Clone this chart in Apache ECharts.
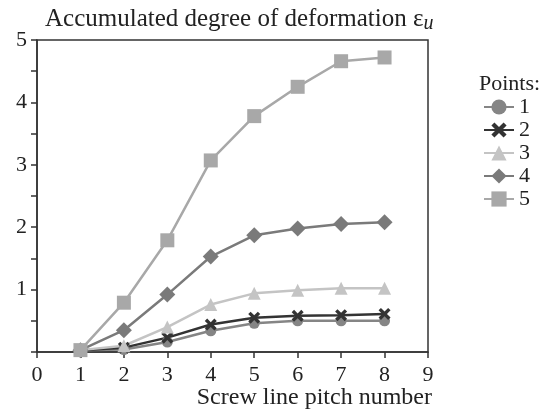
<!DOCTYPE html>
<html>
<head>
<meta charset="utf-8">
<script src="https://cdn.jsdelivr.net/npm/echarts@6/dist/echarts.min.js"></script>
<style>
  html, body { margin: 0; padding: 0; background: #fff; }
  #main { width: 547px; height: 415px; }
</style>
</head>
<body>
<div id="main"></div>
<script>
var pitch = [1, 2, 3, 4, 5, 6, 7, 8];
var point1 = [0.03, 0.04, 0.16, 0.34, 0.46, 0.5, 0.5, 0.5];
var point2 = [0.03, 0.07, 0.23, 0.44, 0.55, 0.58, 0.59, 0.61];
var point3 = [0.03, 0.1, 0.4, 0.76, 0.94, 0.99, 1.02, 1.02];
var point4 = [0.03, 0.35, 0.92, 1.53, 1.87, 1.98, 2.05, 2.08];
var point5 = [0.03, 0.79, 1.79, 3.07, 3.78, 4.25, 4.66, 4.72];
var names = ['1', '2', '3', '4', '5'];

function pairs(vals) {
	var out = [];
	for (var i = 0; i < pitch.length; i++) {
		out.push([pitch[i], vals[i]]);
	}
	return out;
}

var font = 'Liberation Serif';
var cross = 'path://M2,0 L5,3 L8,0 L10,2 L7,5 L10,8 L8,10 L5,7 L2,10 L0,8 L3,5 L0,2 Z';

function line(name, vals, color, symbol, size) {
	return {
		name: name,
		type: 'line',
		data: pairs(vals),
		symbol: symbol,
		symbolSize: size,
		showSymbol: true,
		lineStyle: { color: color, width: 2.5 },
		itemStyle: { color: color },
		emphasis: { disabled: true },
		animation: false
	};
}

var myChart = echarts.init(document.getElementById('main'));

var option = {
	backgroundColor: '#fff',
	animation: false,
	textStyle: { fontFamily: font, color: '#222' },
	title: {
		text: 'Accumulated degree of deformation ε{sub|u}',
		left: 40,
		top: 0,
		textStyle: {
			fontFamily: font,
			fontWeight: 'normal',
			fontSize: 25,
			color: '#222',
			rich: {
				sub: { fontFamily: font, fontStyle: 'italic', fontSize: 20, color: '#222', verticalAlign: 'bottom', padding: [9, 0, 0, 0] }
			}
		}
	},
	grid: {
		left: 37,
		right: 119,
		top: 40,
		bottom: 63,
		show: true,
		borderColor: '#333',
		borderWidth: 1.5,
		containLabel: false,
		outerBoundsMode: 'none'
	},
	xAxis: {
		type: 'value',
		min: 0,
		max: 9,
		interval: 1,
		axisLine: { show: true, lineStyle: { color: '#333', width: 1.5 } },
		axisTick: { show: true, inside: false, length: 6, lineStyle: { color: '#333', width: 1.5 } },
		axisLabel: { fontFamily: font, fontSize: 22, color: '#222', margin: 12 },
		splitLine: { show: false }
	},
	yAxis: {
		type: 'value',
		min: 0,
		max: 5,
		interval: 1,
		axisLine: { show: true, lineStyle: { color: '#333', width: 1.5 } },
		axisTick: { show: true, inside: false, length: 6, lineStyle: { color: '#333', width: 1.5 } },
		minorTick: { show: true, splitNumber: 2, length: 6, lineStyle: { color: '#333', width: 1.5 } },
		axisLabel: {
			fontFamily: font, fontSize: 22, color: '#222', margin: 10,
			formatter: function(v) { return v === 0 ? '' : String(v); }
		},
		splitLine: { show: false }
	},
	legend: {
		orient: 'vertical',
		left: 478,
		top: 91,
		itemGap: 1,
		itemWidth: 30,
		itemHeight: 19,
		textStyle: { fontFamily: font, fontSize: 22, color: '#222' },
		data: names
	},
	graphic: [{
		type: 'text',
		left: 479,
		top: 73,
		style: { text: 'Points:', font: '22px "Liberation Serif"', fill: '#222' }
	}, {
		type: 'text',
		right: 115,
		top: 386,
		style: { text: 'Screw line pitch number', font: '24px "Liberation Serif"', fill: '#222' }
	}],
	series: [
		line(names[0], point1, '#858585', 'circle', 11),
		line(names[1], point2, '#333333', cross, 12),
		line(names[2], point3, '#c4c4c4', 'triangle', 13),
		line(names[3], point4, '#7a7a7a', 'diamond', 16),
		line(names[4], point5, '#a8a8a8', 'rect', 14)
	]
};
myChart.setOption(option);
</script>
</body>
</html>
